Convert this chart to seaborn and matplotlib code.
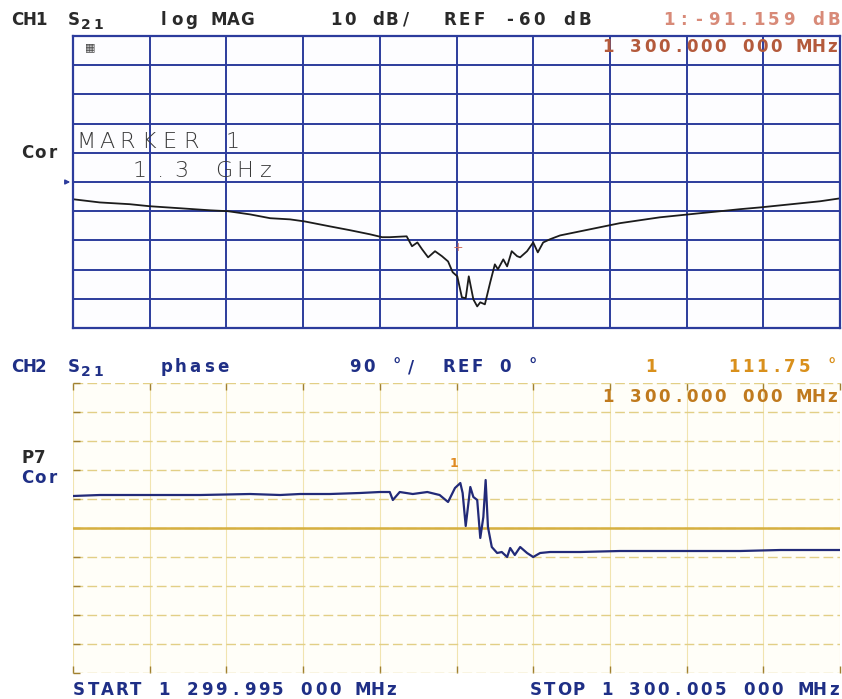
import numpy as np
import pandas as pd
import matplotlib
matplotlib.use("Agg")
import matplotlib.pyplot as plt
import seaborn as sns

# ---------------- data ----------------
# CH1: S21 log magnitude, frequency offset from 1300 MHz in kHz
mag_freq_khz = [-5.00, -4.65, -4.26, -4.00, -3.60, -3.21, -2.98, -2.69, -2.43, -2.17,
                -1.98, -1.65, -1.39, -1.13, -0.97, -0.87, -0.65, -0.58, -0.51, -0.45,
                -0.37, -0.28, -0.19, -0.11, -0.05, 0.01, 0.07, 0.12, 0.16, 0.22,
                0.27, 0.31, 0.37, 0.44, 0.50, 0.54, 0.61, 0.66, 0.72, 0.79,
                0.83, 0.92, 1.00, 1.06, 1.13, 1.22, 1.35, 1.61, 1.87, 2.13,
                2.39, 2.65, 2.91, 3.17, 3.44, 3.70, 3.96, 4.22, 4.48, 4.74, 5.00]
mag_db = [-65.9, -67.0, -67.6, -68.3, -69.0, -69.7, -70.0, -71.1, -72.4, -72.8,
          -73.5, -75.2, -76.5, -77.9, -78.9, -78.9, -78.6, -82.0, -80.7, -83.0,
          -85.8, -83.7, -85.4, -87.2, -90.9, -92.3, -99.5, -99.8, -92.3, -100.2,
          -102.6, -101.2, -101.9, -94.3, -88.2, -89.9, -86.5, -88.9, -83.7, -85.4,
          -85.8, -83.7, -80.7, -84.1, -80.7, -79.6, -78.3, -76.9, -75.5, -74.1,
          -73.1, -72.1, -71.4, -70.7, -70.0, -69.3, -68.7, -68.0, -67.3, -66.6, -65.6]

# CH2: S21 phase (degrees)
ph_freq_khz = [-5.00, -4.65, -4.00, -3.34, -2.69, -2.30, -2.04, -1.65, -1.26, -1.00,
               -0.87, -0.83, -0.74, -0.57, -0.38, -0.22, -0.11, -0.02, 0.05, 0.08,
               0.12, 0.18, 0.22, 0.27, 0.31, 0.35, 0.38, 0.41, 0.46, 0.53,
               0.59, 0.66, 0.70, 0.76, 0.83, 0.92, 1.00, 1.09, 1.22, 1.61,
               2.13, 2.65, 3.17, 3.70, 4.22, 5.00]
ph_deg = [99.3, 102.4, 102.4, 102.4, 105.5, 102.4, 105.5, 105.5, 108.6, 111.7,
          111.7, 86.9, 111.7, 105.5, 111.7, 102.4, 80.7, 124.1, 139.6, 108.6,
          6.2, 127.2, 96.2, 86.9, -31.0, 34.1, 148.9, 3.1, -59.0, -77.6,
          -74.5, -90.0, -62.1, -83.8, -59.0, -77.6, -90.0, -77.6, -74.5, -74.5,
          -71.4, -71.4, -71.4, -71.4, -68.3, -68.3]

# scale settings / annotations
mag_ref_db = -60
mag_per_div = 10
ph_ref_deg = 0
ph_per_div = 90
span_khz = [-5, 5]
marker_freq_khz = 0.0
marker_mag_label = "1:-91.159 dB"
marker_ph_label = "111.75 °"
marker_freq_label = "1 300.000 000 MHz"
start_label = "START 1 299.995 000 MHz"
stop_label = "STOP 1 300.005 000 MHz"

df_mag = pd.DataFrame({"f": mag_freq_khz, "v": mag_db})
df_ph = pd.DataFrame({"f": ph_freq_khz, "v": ph_deg})

# ---------------- figure ----------------
sns.set_style("white")
plt.rcParams["font.family"] = ["DejaVu Sans", "DejaVu Sans Mono"]

W, H = 842, 699
fig = plt.figure(figsize=(W / 100, H / 100), dpi=100)
fig.patch.set_facecolor("white")


def P(x, y):
    return (x / W, 1 - y / H)


def mono(x, y, s, color, pitch=14.0, size=12.0, weight="bold", align="left",
         family="DejaVu Sans"):
    """Plotter-like fixed pitch text: each glyph centred in its own cell."""
    n = len(s)
    if align == "right":
        x0 = x + 1 - n * pitch
    else:
        x0 = x - 1
    for i, ch in enumerate(s):
        if ch == " ":
            continue
        fig.text(*P(x0 + (i + 0.5) * pitch, y), ch, color=color, fontsize=size,
                 fontweight=weight, family=family, ha="center", va="center")


ax1 = fig.add_axes([73 / W, 1 - 328 / H, (840 - 73) / W, (328 - 36) / H])
ax2 = fig.add_axes([73 / W, 1 - 673 / H, (840 - 73) / W, (673 - 383) / H])

# --- top panel (log MAG) ---
ax1.set_facecolor("#fdfdff")
ax1.set_xlim(*span_khz)
ax1.set_ylim(mag_ref_db - 5 * mag_per_div, mag_ref_db + 5 * mag_per_div)
ax1.set_xticks(np.arange(span_khz[0], span_khz[1] + 0.01, 1))
ax1.set_yticks(np.arange(mag_ref_db - 5 * mag_per_div, mag_ref_db + 5 * mag_per_div + 1, mag_per_div))
ax1.grid(True, color="#2c3c9c", lw=1.4)
ax1.tick_params(length=0, labelbottom=False, labelleft=False)
for s in ax1.spines.values():
    s.set_color("#2c3c9c")
    s.set_linewidth(1.6)
sns.lineplot(data=df_mag, x="f", y="v", ax=ax1, color="#1c1c1c", lw=1.3,
             estimator=None, sort=False)
ax1.set_xlabel("")
ax1.set_ylabel("")
ax1.text(marker_freq_khz + 0.02, -82.5, "+", color="#d07060", fontsize=9,
         ha="center", va="center")
ax1.annotate("", xy=(0, 0.5), xycoords="axes fraction", xytext=(-0.012, 0.5),
             arrowprops=dict(arrowstyle="-|>", color="#2c3c9c", lw=1, mutation_scale=7))

# --- bottom panel (phase) ---
ax2.set_facecolor("#fffef8")
ax2.set_xlim(*span_khz)
ax2.set_ylim(ph_ref_deg - 5 * ph_per_div, ph_ref_deg + 5 * ph_per_div)
ax2.set_xticks(np.arange(span_khz[0], span_khz[1] + 0.01, 1))
ax2.set_yticks(np.arange(ph_ref_deg - 5 * ph_per_div, ph_ref_deg + 5 * ph_per_div + 1, ph_per_div))
ax2.xaxis.grid(True, color="#f1e4b0", lw=0.8)
ax2.yaxis.grid(True, color="#e2cf86", lw=1.0, linestyle=(0, (7, 3)))
ax2.axhline(ph_ref_deg, color="#d6b040", lw=1.8)
ax2.tick_params(axis="both", direction="in", length=5, width=1.0, color="#a08030",
                top=True, bottom=True, left=True, right=False,
                labelbottom=False, labelleft=False)
for s in ax2.spines.values():
    s.set_visible(False)
sns.lineplot(data=df_ph, x="f", y="v", ax=ax2, color="#222a78", lw=1.6,
             estimator=None, sort=False)
ax2.set_xlabel("")
ax2.set_ylabel("")
ax2.text(marker_freq_khz - 0.03, 200, "1", color="#e08a20", fontsize=9,
         ha="center", va="center", fontweight="bold")

# ---------------- text ----------------
gray = "#2a2a2a"
blue = "#1f2f86"

# CH1 header
mono(13, 20, "CH1", gray, pitch=11.5)
mono(68, 20, "S", gray)
mono(80, 25, "21", gray, pitch=13.0, size=10)
mono(157, 20, "log MAG", gray)
mono(330, 20, "10 dB/", gray)
mono(443, 20, "REF -60 dB", gray, pitch=15.0)
mono(840, 20, marker_mag_label, "#d88a78", align="right", pitch=15.0)
mono(838, 47, marker_freq_label, "#b45a3c", align="right")
fig.text(*P(85, 47), "▦", color="#444444", fontsize=8, va="center")
mono(22, 153, "Cor", gray, pitch=12.5)
mono(76, 142, "MARKER 1", "#3a3a3a", pitch=21.0, size=16, weight="light")
mono(130, 171, "1.3 GHz", "#3a3a3a", pitch=21.0, size=16, weight="light")

# CH2 header
mono(13, 367, "CH2", blue, pitch=11.5)
mono(68, 367, "S", blue)
mono(80, 372, "21", blue, pitch=13.0, size=10)
mono(161, 367, "phase", blue)
mono(349, 367, "90 °/", blue)
mono(443, 367, "REF 0 °", blue)
mono(645, 367, "1", "#d9901c")
mono(838, 367, marker_ph_label, "#d9901c", align="right")
mono(838, 397, marker_freq_label, "#c07a1e", align="right")
mono(22, 458, "P7", gray, pitch=12.5)
mono(22, 478, "Cor", blue, pitch=12.5)

# start / stop
mono(73, 690, start_label, blue, pitch=14.2)
mono(840, 690, stop_label, blue, align="right", pitch=14.2)

fig.savefig("out.png", dpi=100, facecolor="white")
